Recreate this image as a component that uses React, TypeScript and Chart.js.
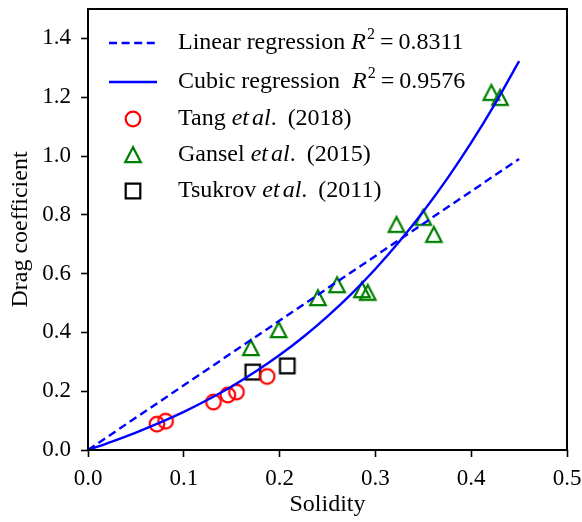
import React, { useEffect, useRef } from "react";
import { Chart, registerables } from "chart.js";

Chart.register(...registerables);

// ---------- data ----------
const linearX = [0, 0.45];
const linearY = [0, 0.99];

const cubicX = [0, 0.025, 0.05, 0.075, 0.1, 0.125, 0.15, 0.175, 0.2, 0.225, 0.25, 0.275, 0.3, 0.325, 0.35, 0.375, 0.4, 0.425, 0.45];
const cubicY = [0, 0.0286, 0.0594, 0.093, 0.1299, 0.1708, 0.2162, 0.2668, 0.3229, 0.3853, 0.4546, 0.5312, 0.6158, 0.7089, 0.8112, 0.9231, 1.0454, 1.1784, 1.3229];

const tangX = [0.072, 0.081, 0.131, 0.146, 0.155, 0.187];
const tangY = [0.088, 0.098, 0.163, 0.187, 0.197, 0.25];

const ganselX = [0.17, 0.199, 0.24, 0.26, 0.286, 0.292, 0.322, 0.35, 0.361, 0.421, 0.43];
const ganselY = [0.347, 0.408, 0.517, 0.561, 0.544, 0.535, 0.766, 0.79, 0.732, 1.215, 1.198];

const tsukrovX = [0.172, 0.208];
const tsukrovY = [0.265, 0.286];

const xTicks = [0, 0.1, 0.2, 0.3, 0.4, 0.5];
const yTicks = [0, 0.2, 0.4, 0.6, 0.8, 1.0, 1.2, 1.4];

const xTitle = "Solidity";
const yTitle = "Drag coefficient";

const FONT = '"Liberation Serif", "Times New Roman", serif';
const FS = 23;
const LFS = 24;

type Seg = { t: string; it?: boolean; sup?: boolean; pre?: number };

const legendItems: { kind: string; segs: Seg[] }[] = [
  {
    kind: "dash",
    segs: [
      { t: "Linear regression " },
      { t: "R", it: true },
      { t: "2", sup: true, pre: 1 },
      { t: "=", pre: 5 },
      { t: "0.8311", pre: 5 },
    ],
  },
  {
    kind: "solid",
    segs: [
      { t: "Cubic regression  " },
      { t: "R", it: true },
      { t: "2", sup: true, pre: 1 },
      { t: "=", pre: 5 },
      { t: "0.9576", pre: 5 },
    ],
  },
  { kind: "circle", segs: [{ t: "Tang " }, { t: "et", it: true }, { t: "al", it: true, pre: 3 }, { t: "." }, { t: "(2018)", pre: 11 }] },
  { kind: "triangle", segs: [{ t: "Gansel " }, { t: "et", it: true }, { t: "al", it: true, pre: 3 }, { t: "." }, { t: "(2015)", pre: 11 }] },
  { kind: "square", segs: [{ t: "Tsukrov " }, { t: "et", it: true }, { t: "al", it: true, pre: 3 }, { t: "." }, { t: "(2011)", pre: 11 }] },
];

function makeMarker(kind: string): HTMLCanvasElement {
  const c = document.createElement("canvas");
  c.width = 24;
  c.height = 24;
  const g = c.getContext("2d")!;
  g.lineWidth = 2.2;
  const cx = 12, cy = 12;
  g.beginPath();
  if (kind === "circle") {
    g.strokeStyle = "#ff0000";
    g.arc(cx, cy, 7.3, 0, Math.PI * 2);
  } else if (kind === "triangle") {
    g.strokeStyle = "#008000";
    g.moveTo(cx, cy - 7.8);
    g.lineTo(cx - 7.8, cy + 7.2);
    g.lineTo(cx + 7.8, cy + 7.2);
    g.closePath();
  } else {
    g.strokeStyle = "#000000";
    g.rect(cx - 7.3, cy - 7.3, 14.6, 14.6);
  }
  g.stroke();
  return c;
}

export default function App() {
  const ref = useRef<HTMLCanvasElement | null>(null);

  useEffect(() => {
    document.body.style.margin = "0";
    const canvas = ref.current!;
    const mCircle = makeMarker("circle");
    const mTri = makeMarker("triangle");
    const mSq = makeMarker("square");
    const markers: Record<string, HTMLCanvasElement> = { circle: mCircle, triangle: mTri, square: mSq };

    const framePlugin = {
      id: "frameLegend",
      afterDraw(chart: any) {
        const { ctx, chartArea } = chart;
        const { left, right, top, bottom } = chartArea;
        ctx.save();
        ctx.strokeStyle = "#000";
        ctx.lineWidth = 2;
        ctx.strokeRect(left, top, right - left, bottom - top);

        const rowY = [34, 73, 110, 146, 182];
        const hx0 = left + 21, hx1 = left + 69, mx = left + 45, tx = left + 90;
        legendItems.forEach((item, i) => {
          const y = top + rowY[i];
          if (item.kind === "dash" || item.kind === "solid") {
            ctx.beginPath();
            ctx.strokeStyle = "#0000ff";
            ctx.lineWidth = 2.4;
            ctx.setLineDash(item.kind === "dash" ? [8, 4.6] : []);
            ctx.moveTo(hx0, y);
            ctx.lineTo(hx1, y);
            ctx.stroke();
            ctx.setLineDash([]);
          } else {
            const m = markers[item.kind];
            ctx.drawImage(m, mx - m.width / 2, y - m.height / 2);
          }
          let x = tx;
          ctx.fillStyle = "#000";
          ctx.textBaseline = "middle";
          ctx.textAlign = "left";
          for (const s of item.segs) {
            x += s.pre || 0;
            const size = s.sup ? 16 : LFS;
            ctx.font = `${s.it ? "italic " : ""}${size}px ${FONT}`;
            ctx.fillText(s.t, x, s.sup ? y - 8 : y);
            x += ctx.measureText(s.t).width;
          }
        });
        ctx.restore();
      },
    };

    const chart = new Chart(canvas, {
      type: "scatter",
      data: {
        datasets: [
          {
            label: "Linear regression",
            data: linearX.map((x, i) => ({ x, y: linearY[i] })),
            showLine: true,
            borderColor: "#0000ff",
            borderWidth: 2.4,
            borderDash: [8, 4.6],
            pointRadius: 0,
            fill: false,
          },
          {
            label: "Cubic regression",
            data: cubicX.map((x, i) => ({ x, y: cubicY[i] })),
            showLine: true,
            borderColor: "#0000ff",
            borderWidth: 2.4,
            pointRadius: 0,
            cubicInterpolationMode: "monotone",
            fill: false,
          },
          {
            label: "Tang et al. (2018)",
            data: tangX.map((x, i) => ({ x, y: tangY[i] })),
            pointStyle: mCircle,
            pointRadius: 8,
          },
          {
            label: "Gansel et al. (2015)",
            data: ganselX.map((x, i) => ({ x, y: ganselY[i] })),
            pointStyle: mTri,
            pointRadius: 8,
          },
          {
            label: "Tsukrov et al. (2011)",
            data: tsukrovX.map((x, i) => ({ x, y: tsukrovY[i] })),
            pointStyle: mSq,
            pointRadius: 8,
          },
        ] as any,
      },
      options: {
        responsive: false,
        animation: false,
        devicePixelRatio: 1,
        layout: { padding: { top: 8, right: 15, left: 0, bottom: 0 } },
        plugins: {
          legend: { display: false },
          tooltip: { enabled: false },
        },
        scales: {
          x: {
            type: "linear",
            min: 0,
            max: 0.5,
            afterBuildTicks: (s: any) => {
              s.ticks = xTicks.map((v) => ({ value: v }));
            },
            afterFit: (s: any) => {
              s.height = 72;
              s.paddingLeft = 0;
              s.paddingRight = 0;
            },
            ticks: {
              color: "#000",
              font: { family: FONT, size: FS },
              padding: 8,
              maxRotation: 0,
              callback: (v: any) => Number(v).toFixed(1),
            },
            grid: {
              drawOnChartArea: false,
              drawTicks: true,
              tickLength: 7,
              tickWidth: 1.6,
              tickColor: "#000",
            },
            border: { display: false },
            title: {
              display: true,
              text: xTitle,
              color: "#000",
              font: { family: FONT, size: LFS },
              padding: { top: 0, bottom: 3 },
            },
          },
          y: {
            type: "linear",
            min: 0,
            max: 1.5,
            afterBuildTicks: (s: any) => {
              s.ticks = yTicks.map((v) => ({ value: v }));
            },
            afterFit: (s: any) => {
              s.width = 88;
              s.paddingTop = 0;
              s.paddingBottom = 0;
            },
            ticks: {
              color: "#000",
              font: { family: FONT, size: FS },
              padding: 10,
              callback: (v: any) => Number(v).toFixed(1),
            },
            grid: {
              drawOnChartArea: false,
              drawTicks: true,
              tickLength: 7,
              tickWidth: 1.6,
              tickColor: "#000",
            },
            border: { display: false },
            title: {
              display: true,
              text: yTitle,
              color: "#000",
              font: { family: FONT, size: LFS },
              padding: { top: 6, bottom: 0 },
            },
          },
        },
      },
      plugins: [framePlugin],
    });
    return () => chart.destroy();
  }, []);

  return (
    <div style={{ width: 582, height: 522 }}>
      <canvas ref={ref} width={582} height={522} style={{ display: "block" }} />
    </div>
  );
}
